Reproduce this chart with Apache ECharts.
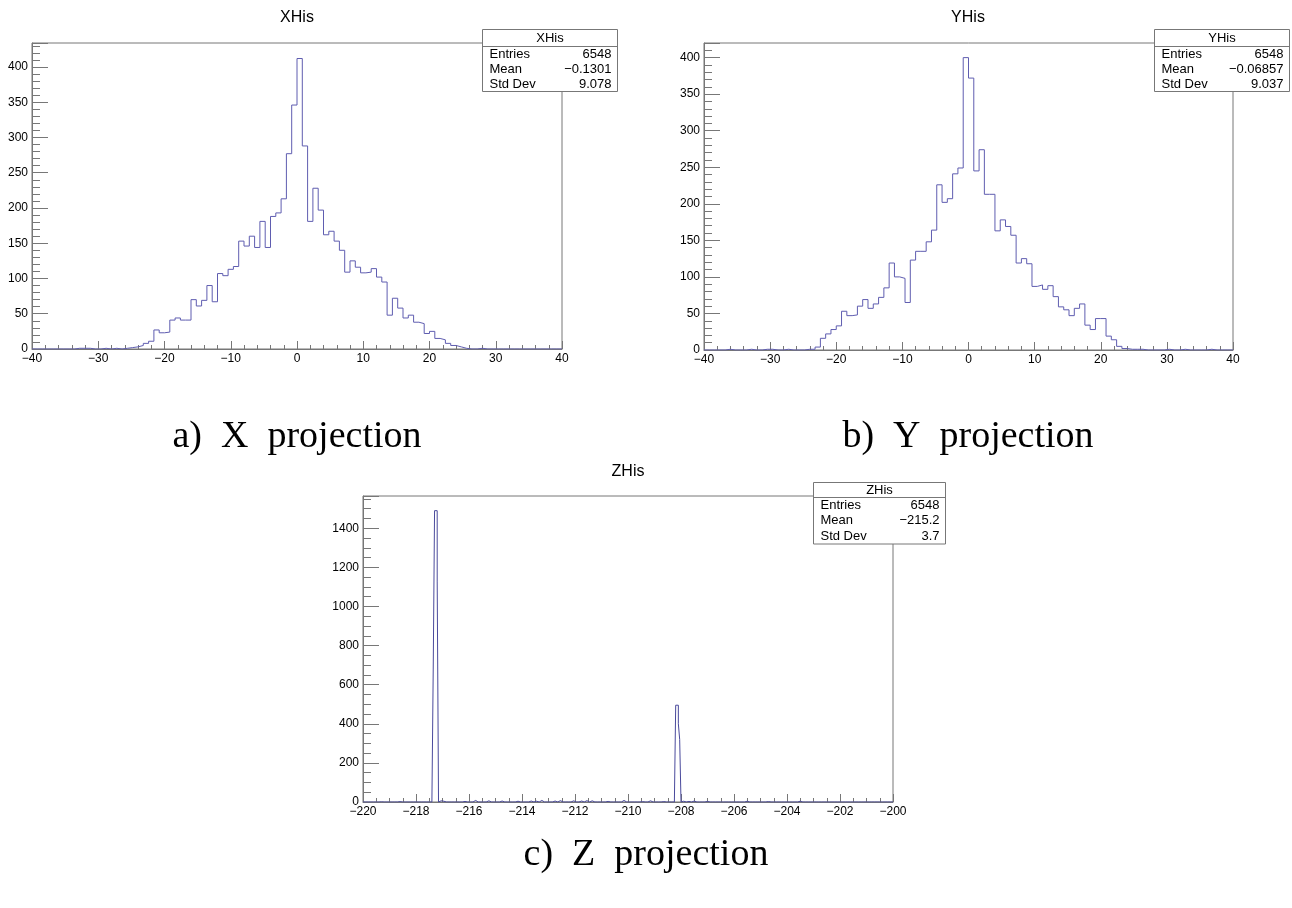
<!DOCTYPE html>
<html>
<head>
<meta charset="utf-8">
<title>XHis / YHis / ZHis</title>
<script src="https://cdn.jsdelivr.net/npm/echarts@6/dist/echarts.min.js"></script>
<style>
  html, body { margin: 0; padding: 0; background: #fff; }
  #main { width: 1292px; height: 908px; }
</style>
</head>
<body>
<div id="main"></div>
<script>
// X projection: 100 bins from -40 to 40
var xMin = -40, xMax = 40, xBins = 100;
var xCounts = [
  0, 0, 0, 0, 0, 0, 0, 0, 1, 1,
  1, 0, 0, 1, 0, 1, 0, 1, 2, 3,
  5, 8, 11, 27, 23, 24, 41, 44, 41, 41,
  70, 61, 69, 90, 67, 107, 104, 113, 117, 153,
  146, 160, 144, 181, 144, 188, 193, 213, 277, 346,
  412, 288, 181, 228, 197, 162, 167, 153, 140, 109,
  125, 116, 108, 109, 114, 102, 95, 48, 72, 58,
  44, 48, 38, 36, 22, 25, 15, 13, 8, 5,
  3, 1, 0, 0, 1, 0, 0, 0, 0, 0,
  0, 0, 0, 0, 0, 0, 0, 0, 0, 0
];

// Y projection: same binning
var yCounts = [
  0, 0, 0, 0, 1, 0, 0, 0, 1, 0,
  0, 1, 1, 0, 0, 1, 0, 0, 0, 1,
  1, 4, 16, 22, 28, 33, 53, 47, 48, 60,
  69, 57, 63, 72, 85, 119, 100, 98, 65, 123,
  135, 135, 148, 164, 226, 202, 207, 241, 249, 400,
  372, 245, 274, 213, 213, 163, 178, 169, 157, 119,
  125, 118, 87, 89, 83, 88, 73, 59, 55, 47,
  57, 63, 34, 28, 43, 43, 19, 14, 5, 2,
  1, 1, 1, 0, 0, 0, 0, 1, 0, 0,
  1, 0, 0, 0, 0, 1, 0, 0, 0, 0
];

// Z projection: 400 bins of 0.05 from -220 to -200, only filled bins listed
var zMin = -220, zMax = -200, zBins = 400;
var zLowEdges = [
  -219.60, -219.35, -219.00, -218.65, -218.30, -217.90,
  -217.35, -217.30, -217.25, -217.20,
  -217.10, -217.00, -216.75, -216.45, -216.20, -215.95, -215.80, -215.65,
  -215.45, -215.30, -215.15, -214.80, -214.65, -214.45, -214.20, -214.05,
  -213.85, -213.70, -213.50, -213.30, -213.15, -212.95, -212.80, -212.60,
  -212.35, -212.10, -211.95, -211.80, -211.60, -211.40, -211.25, -211.05,
  -210.80, -210.55, -210.35, -210.20, -210.05, -209.75, -209.50, -209.20,
  -208.70,
  -208.20, -208.15, -208.10, -208.05,
  -207.95, -207.75, -207.55, -207.30, -207.05, -206.60, -206.00, -205.80,
  -205.55, -205.00, -204.75, -203.80, -203.55, -203.30, -202.40, -201.20
];
var zCounts = [
  2, 1, 3, 2, 1, 2,
  680, 1490, 1490, 1130,
  6, 4, 3, 5, 3, 6, 8, 5,
  9, 6, 10, 5, 7, 9, 4, 6,
  9, 5, 4, 8, 6, 9, 5, 7,
  3, 6, 8, 5, 7, 6, 9, 4,
  3, 6, 5, 8, 9, 3, 2, 6,
  2,
  495, 495, 400, 320,
  4, 3, 5, 4, 3, 2, 4, 3,
  4, 3, 2, 3, 4, 2, 1, 1
];

var statNames = ['Entries', 'Mean', 'Std Dev'];
var xStats = ['6548', '\u22120.1301', '9.078'];
var yStats = ['6548', '\u22120.06857', '9.037'];
var zStats = ['6548', '\u2212215.2', '3.7'];

var frameColor = '#777';
var sansFont = '"Liberation Sans", Arial, sans-serif';
var serifFont = '"Liberation Serif", "Times New Roman", serif';

(function() {
  var myChart = echarts.init(document.getElementById('main'));

  // outline of a histogram as a stepped polyline
  function histLine(lo, hi, counts) {
    var w = (hi - lo) / counts.length;
    var pts = [[lo, 0]];
    for (var i = 0; i < counts.length; i++) {
      pts.push([lo + i * w, counts[i]]);
    }
    pts.push([hi, counts[counts.length - 1]]);
    pts.push([hi, 0]);
    return pts;
  }

  // full z bin array from the sparse list
  var zFull = [];
  for (var i = 0; i < zBins; i++) zFull.push(0);
  var zW = (zMax - zMin) / zBins;
  for (var j = 0; j < zLowEdges.length; j++) {
    zFull[Math.round((zLowEdges[j] - zMin) / zW)] = zCounts[j];
  }

  function minus(v) {
    return String(v).replace('-', '\u2212');
  }

  function xAxisOf(g, min, max, interval, minorSplit) {
    return {
      type: 'value', gridIndex: g, min: min, max: max, interval: interval,
      axisLine: { show: true, onZero: false, lineStyle: { color: frameColor, width: 1 } },
      axisTick: { show: true, inside: true, length: 8, lineStyle: { color: frameColor } },
      minorTick: { show: true, splitNumber: minorSplit, length: 4, lineStyle: { color: frameColor } },
      splitLine: { show: false },
      axisLabel: { color: '#000', fontFamily: sansFont, fontSize: 12, margin: 4, formatter: minus }
    };
  }

  function yAxisOf(g, max, interval, minorSplit) {
    return {
      type: 'value', gridIndex: g, min: 0, max: max, interval: interval,
      axisLine: { show: true, onZero: false, lineStyle: { color: frameColor, width: 1 } },
      axisTick: { show: true, inside: true, length: 16, lineStyle: { color: frameColor } },
      minorTick: { show: true, splitNumber: minorSplit, length: 8, lineStyle: { color: frameColor } },
      splitLine: { show: false },
      axisLabel: {
        color: '#000', fontFamily: sansFont, fontSize: 12, margin: 4, showMaxLabel: false,
        formatter: function(v) { return String(v); }
      }
    };
  }

  function txt(text, x, y, font, align) {
    return {
      type: 'text', z: 102,
      style: {
        text: text, x: x, y: y, font: font, fill: '#000',
        align: align, verticalAlign: 'middle'
      }
    };
  }

  // ROOT style statistics box
  function statsBox(x, y, w, headH, rowH, name, vals) {
    var els = [];
    els.push({
      type: 'rect', z: 100,
      shape: { x: x, y: y, width: w, height: headH + 3 * rowH },
      style: { fill: '#fff', stroke: frameColor, lineWidth: 1 }
    });
    els.push({
      type: 'line', z: 101,
      shape: { x1: x, y1: y + headH, x2: x + w, y2: y + headH },
      style: { stroke: frameColor, lineWidth: 1 }
    });
    var f = '13px ' + sansFont;
    els.push(txt(name, x + w / 2, y + headH / 2, f, 'center'));
    for (var k = 0; k < statNames.length; k++) {
      var cy = y + headH + rowH * (k + 0.5);
      els.push(txt(statNames[k], x + 7, cy, f, 'left'));
      els.push(txt(vals[k], x + w - 6, cy, f, 'right'));
    }
    return els;
  }

  var graphics = [];
  graphics = graphics.concat(statsBox(482.5, 29.5, 135, 17, 15, 'XHis', xStats));
  graphics = graphics.concat(statsBox(1154.5, 29.5, 135, 17, 15, 'YHis', yStats));
  graphics = graphics.concat(statsBox(813.5, 482.5, 132, 15, 15.5, 'ZHis', zStats));
  graphics.push(txt('XHis', 297, 18, '16px ' + sansFont, 'center'));
  graphics.push(txt('YHis', 968, 18, '16px ' + sansFont, 'center'));
  graphics.push(txt('ZHis', 628, 472, '16px ' + sansFont, 'center'));
  graphics.push(txt('a)  X  projection', 297, 437, '38px ' + serifFont, 'center'));
  graphics.push(txt('b)  Y  projection', 968, 437, '38px ' + serifFont, 'center'));
  graphics.push(txt('c)  Z  projection', 646, 855, '38px ' + serifFont, 'center'));

  var gridStyle = { show: true, borderColor: frameColor, borderWidth: 1, backgroundColor: 'transparent', outerBoundsMode: 'none' };

  var option = {
    animation: false,
    backgroundColor: '#fff',
    grid: [
      Object.assign({ left: 32, top: 43, width: 530, height: 306 }, gridStyle),
      Object.assign({ left: 704, top: 43, width: 529, height: 307 }, gridStyle),
      Object.assign({ left: 363, top: 496, width: 530, height: 306 }, gridStyle)
    ],
    xAxis: [
      xAxisOf(0, xMin, xMax, 10, 5),
      xAxisOf(1, xMin, xMax, 10, 5),
      xAxisOf(2, zMin, zMax, 2, 4)
    ],
    yAxis: [
      yAxisOf(0, 434, 50, 5),
      yAxisOf(1, 420, 50, 5),
      yAxisOf(2, 1565, 200, 4)
    ],
    graphic: graphics,
    series: [
      {
        name: 'XHis', type: 'line', step: 'end', symbol: 'none',
        xAxisIndex: 0, yAxisIndex: 0,
        lineStyle: { color: '#5f5db0', width: 1 },
        data: histLine(xMin, xMax, xCounts)
      },
      {
        name: 'YHis', type: 'line', step: 'end', symbol: 'none',
        xAxisIndex: 1, yAxisIndex: 1,
        lineStyle: { color: '#5f5db0', width: 1 },
        data: histLine(xMin, xMax, yCounts)
      },
      {
        name: 'ZHis', type: 'line', step: 'end', symbol: 'none',
        xAxisIndex: 2, yAxisIndex: 2,
        lineStyle: { color: '#4a4a9c', width: 1 },
        data: histLine(zMin, zMax, zFull)
      }
    ]
  };

  myChart.setOption(option);
  window.addEventListener('resize', function() {
    myChart.resize();
  });
})();
</script>
</body>
</html>
